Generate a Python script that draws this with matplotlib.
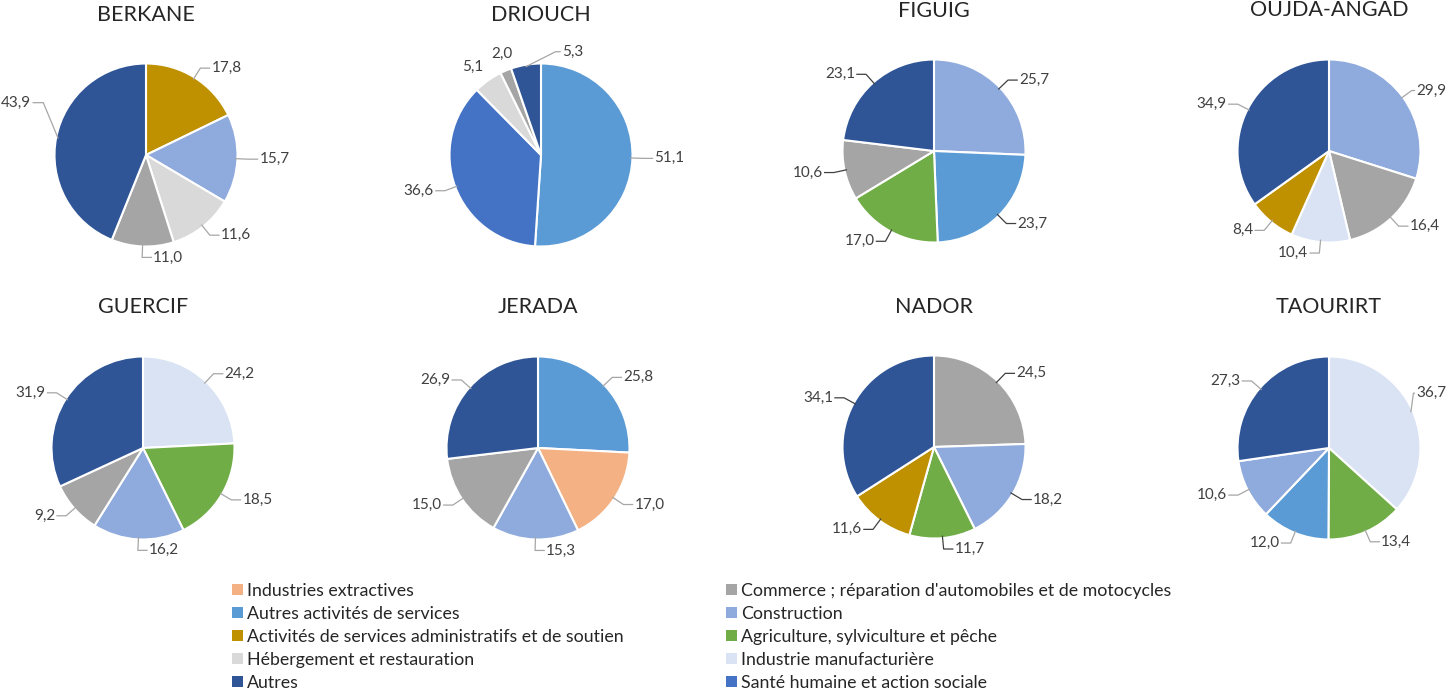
import numpy as np
import matplotlib.pyplot as plt
from matplotlib.patches import Patch

plt.rcParams['font.family'] = ['Lato', 'DejaVu Sans']

# categories and colours
categories = ["Industries extractives", "Autres activités de services",
              "Activités de services administratifs et de soutien",
              "Hébergement et restauration", "Autres",
              "Commerce ; réparation d'automobiles et de motocycles",
              "Construction", "Agriculture, sylviculture et pêche",
              "Industrie manufacturière", "Santé humaine et action sociale"]
colors = {"Industries extractives": "#F4B183",
          "Autres activités de services": "#5B9BD5",
          "Activités de services administratifs et de soutien": "#BF9000",
          "Hébergement et restauration": "#D9D9D9",
          "Autres": "#2F5597",
          "Commerce ; réparation d'automobiles et de motocycles": "#A5A5A5",
          "Construction": "#8FAADC",
          "Agriculture, sylviculture et pêche": "#70AD47",
          "Industrie manufacturière": "#DAE3F3",
          "Santé humaine et action sociale": "#4472C4"}

ADM = categories[2]
COM = categories[5]

# each province: slices clockwise from 12 o'clock
berkane_cats = [ADM, "Construction", "Hébergement et restauration", COM, "Autres"]
berkane_vals = [17.8, 15.7, 11.6, 11.0, 43.9]
driouch_cats = ["Autres activités de services", "Santé humaine et action sociale",
                "Hébergement et restauration", COM, "Autres"]
driouch_vals = [51.1, 36.6, 5.1, 2.0, 5.3]
figuig_cats = ["Construction", "Autres activités de services",
               "Agriculture, sylviculture et pêche", COM, "Autres"]
figuig_vals = [25.7, 23.7, 17.0, 10.6, 23.1]
oujda_cats = ["Construction", COM, "Industrie manufacturière", ADM, "Autres"]
oujda_vals = [29.9, 16.4, 10.4, 8.4, 34.9]
guercif_cats = ["Industrie manufacturière", "Agriculture, sylviculture et pêche",
                "Construction", COM, "Autres"]
guercif_vals = [24.2, 18.5, 16.2, 9.2, 31.9]
jerada_cats = ["Autres activités de services", "Industries extractives",
               "Construction", COM, "Autres"]
jerada_vals = [25.8, 17.0, 15.3, 15.0, 26.9]
nador_cats = [COM, "Construction", "Agriculture, sylviculture et pêche", ADM, "Autres"]
nador_vals = [24.5, 18.2, 11.7, 11.6, 34.1]
taourirt_cats = ["Industrie manufacturière", "Agriculture, sylviculture et pêche",
                 "Autres activités de services", "Construction", "Autres"]
taourirt_vals = [36.7, 13.4, 12.0, 10.6, 27.3]

W, H = 1451, 693
fig = plt.figure(figsize=(W / 100, H / 100), dpi=100)

R = 91.5  # pie radius in px
HALF = 160

# label tweaks: slice index -> dict(elbow angle / radius, tail, side, line)
berkane_fix = {4: dict(ang=153, r=1.26, tail=0.11)}
driouch_fix = {2: dict(line=False, ang=128, r=1.22),
               3: dict(line=False, ang=111, r=1.18),
               4: dict(ang=82, r=1.14, tail=0.05, side=1)}
oujda_fix = {0: dict(tail=0.03)}
taourirt_fix = {0: dict(ang=33, r=1.1, tail=0.01)}

# (title, cats, vals, centre x, centre y, title y, leader colour, tweaks)
pies = [
    ("BERKANE", berkane_cats, berkane_vals, 146, 155, 15, "#A6A6A6", berkane_fix),
    ("DRIOUCH", driouch_cats, driouch_vals, 541, 155, 15, "#A6A6A6", driouch_fix),
    ("FIGUIG", figuig_cats, figuig_vals, 934, 151, 11, "#404040", {}),
    ("OUJDA-ANGAD", oujda_cats, oujda_vals, 1329, 151, 10, "#A6A6A6", oujda_fix),
    ("GUERCIF", guercif_cats, guercif_vals, 143, 448, 307, "#A6A6A6", {}),
    ("JERADA", jerada_cats, jerada_vals, 538, 448, 307, "#A6A6A6", {}),
    ("NADOR", nador_cats, nador_vals, 934, 447, 307, "#404040", {}),
    ("TAOURIRT", taourirt_cats, taourirt_vals, 1329, 448, 307, "#A6A6A6", taourirt_fix),
]

lim = HALF / R
for title, cats, vals, cx, cy, ty, lc, fixes in pies:
    ax = fig.add_axes([(cx - HALF) / W, 1 - (cy + HALF) / H, 2 * HALF / W, 2 * HALF / H])
    wedges, _ = ax.pie(vals, colors=[colors[c] for c in cats], startangle=90,
                       counterclock=False, radius=1,
                       wedgeprops=dict(edgecolor='white', linewidth=1.5))
    ax.set_xlim(-lim, lim)
    ax.set_ylim(-lim, lim)
    ax.set_aspect('equal')
    ax.axis('off')
    for i, (w, v) in enumerate(zip(wedges, vals)):
        fx = fixes.get(i, {})
        mid = (w.theta1 + w.theta2) / 2
        ang = np.deg2rad(mid)
        ca, sa = np.cos(ang), np.sin(ang)
        eang = np.deg2rad(fx.get('ang', mid))
        er = fx.get('r', 1.12)
        p1 = (er * np.cos(eang), er * np.sin(eang))
        txt = f"{v:.1f}".replace('.', ',')
        if not fx.get('line', True):
            ax.text(p1[0], p1[1], txt, ha='center', va='center',
                    fontsize=11, color='#404040', clip_on=False)
            continue
        side = fx.get('side', 1 if ca >= -0.07 else -1)
        tail = fx.get('tail', 0.1)
        p0 = (0.98 * ca, 0.98 * sa)
        p2 = (p1[0] + side * tail, p1[1])
        ax.plot([p0[0], p1[0], p2[0]], [p0[1], p1[1], p2[1]], color=lc,
                lw=0.9, clip_on=False)
        ax.text(p2[0] + side * 0.02, p2[1], txt,
                ha='left' if side > 0 else 'right', va='center',
                fontsize=11, color='#404040', clip_on=False)
    fig.text(cx / W, 1 - ty / H, title, ha='center', va='center',
             fontsize=15.5, color='#262626')

# legend in two columns
left = categories[:5]
right = categories[5:]
for cats, x in [(left, 232), (right, 726)]:
    handles = [Patch(facecolor=colors[c], edgecolor='none') for c in cats]
    fig.legend(handles, cats, loc='upper left', bbox_to_anchor=(x / W, 1 - 583 / H),
               frameon=False, fontsize=12.8, handlelength=0.6, handleheight=0.6,
               handletextpad=0.25, labelspacing=0.39, borderpad=0, borderaxespad=0,
               labelcolor='#262626')

fig.savefig('out.png', dpi=100)
